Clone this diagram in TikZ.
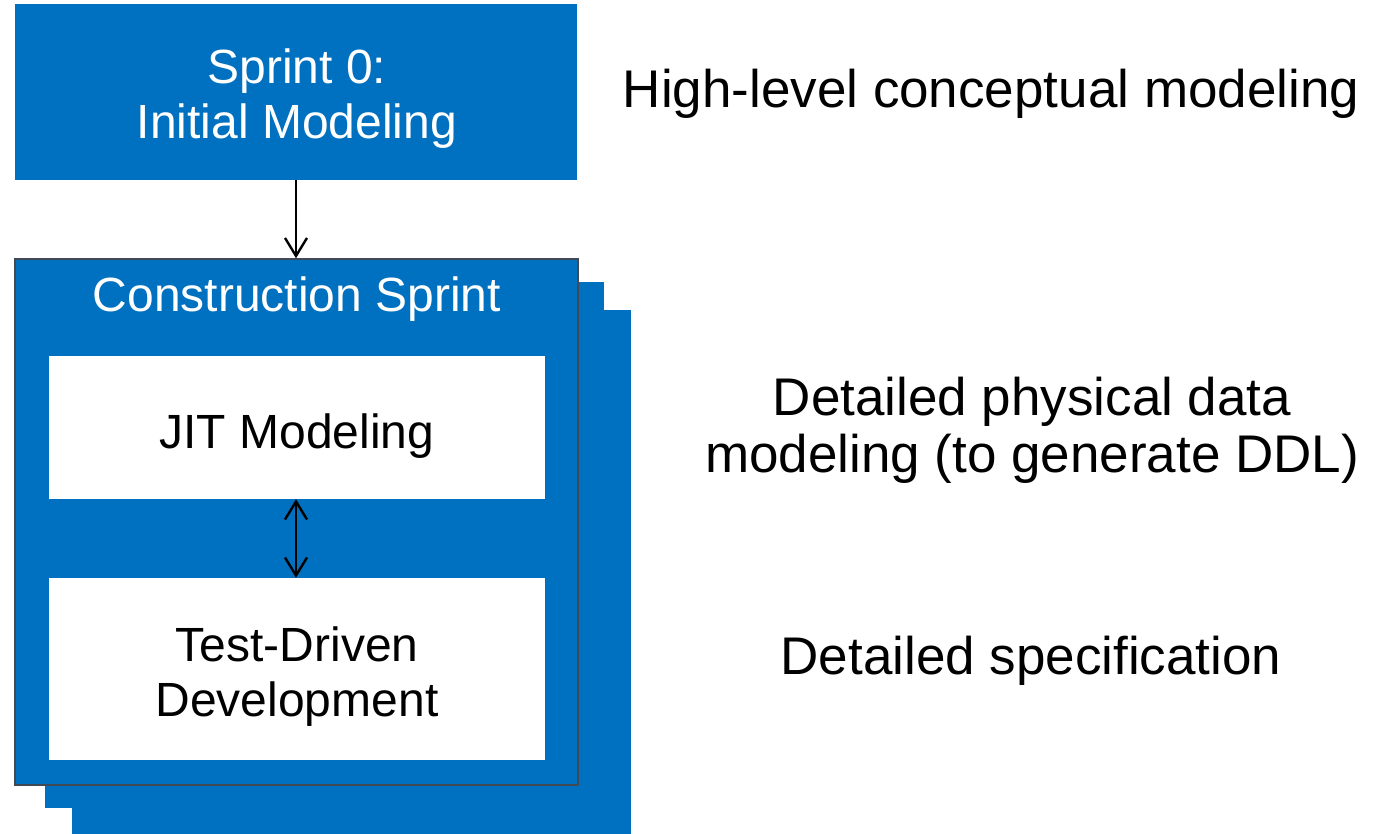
\documentclass[tikz,border=0pt]{standalone}
\usepackage{fontspec}
\setmainfont{Liberation Sans}
\usetikzlibrary{arrows.meta}
\definecolor{sprintblue}{HTML}{0070C0}
\definecolor{frameline}{HTML}{3F4A55}
\tikzset{
  box/.style={rectangle, inner sep=0pt, anchor=center},
  bluebox/.style={box, fill=sprintblue},
  whitebox/.style={box, fill=white},
  boxtext/.style={inner sep=0pt, font=\fontsize{48}{55}\selectfont, align=center},
  note/.style={inner sep=0pt, text=black, font=\fontsize{53}{57}\selectfont, align=center},
  barb/.tip={Straight Barb[length=18pt,width=22pt,line width=2.4pt]},
  flow/.style={line width=2.4pt, -barb},
  both/.style={line width=2.4pt, barb-barb}
}
\begin{document}
\begin{tikzpicture}[x=1pt, y=-1pt]
  \useasboundingbox (0,0) rectangle (1389,834);

  % stacked sprint pages (back to front)
  \node[bluebox, minimum width=559pt, minimum height=526pt] (layerC) at (351.5,573) {};
  \node[bluebox, minimum width=559pt, minimum height=526pt] (layerB) at (324.5,545) {};
  \node[bluebox, draw=frameline, line width=1.5pt, minimum width=563pt, minimum height=526pt] (construct) at (296.5,522) {};
  \node[boxtext, text=white] (constructTitle) at (297,299) {Construction Sprint};

  % sprint 0
  \node[bluebox, minimum width=562pt, minimum height=176pt] (sprint0) at (296,92) {};
  \node[boxtext, text=white] (sprint0Text) at (297,99) {Sprint 0:\\Initial Modeling};

  % activities inside a construction sprint
  \node[whitebox, minimum width=496pt, minimum height=143pt] (jit) at (297,427.5) {};
  \node[boxtext, text=black] (jitText) at (297,436) {JIT Modeling};
  \node[whitebox, minimum width=496pt, minimum height=182pt] (tdd) at (297,669) {};
  \node[boxtext, text=black] (tddText) at (297,677) {Test-Driven\\Development};

  % connectors
  \draw[flow] (sprint0.south -| 296,0) -- (construct.north -| 296,0);
  \draw[both] (jit.south -| 296,0) -- (tdd.north -| 296,0);

  % descriptions
  \node[note] (noteHigh) at (991,94) {High-level conceptual modeling};
  \node[note] (notePhys) at (1032,430) {Detailed physical data\\modeling (to generate DDL)};
  \node[note] (noteSpec) at (1031,661) {Detailed specification};
\end{tikzpicture}
\end{document}
